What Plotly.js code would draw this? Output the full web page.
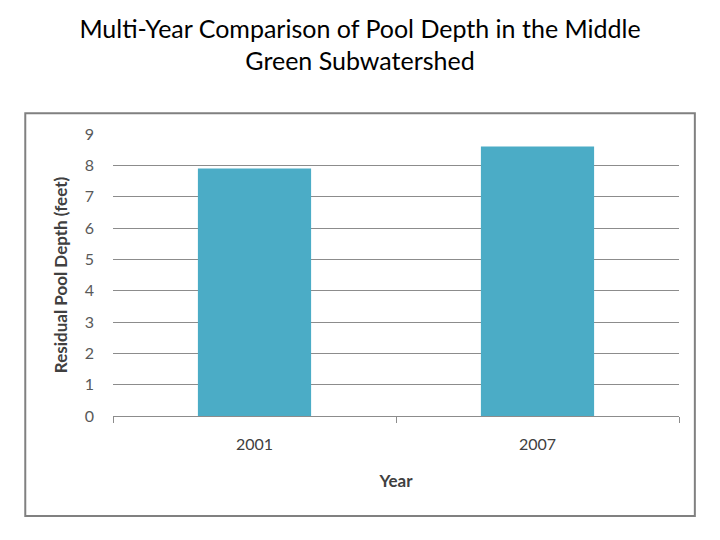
<!DOCTYPE html>
<html>
<head>
<meta charset="utf-8">
<script src="https://cdn.plot.ly/plotly-3.0.1.min.js"></script>
<style>
  html, body { margin: 0; padding: 0; background: #fff; }
  #chart { width: 720px; height: 540px; }
</style>
</head>
<body>
<div id="chart"></div>
<script>
// Values
const years = ['2001', '2007'];
const poolDepth = [7.9, 8.6];

const barColor = '#4BACC6';
const gridColor = '#8c8c8c';
const fontFamily = 'Lato, "Open Sans", "DejaVu Sans", sans-serif';

const trace = {
    type: 'bar',
    x: years,
    y: poolDepth,
    marker: { color: barColor, line: { width: 0 } },
    hoverinfo: 'x+y',
};

const layout = {
    width: 720,
    height: 540,
    margin: { l: 113, r: 41, t: 134, b: 124 },
    paper_bgcolor: '#fff',
    plot_bgcolor: '#fff',
    font: { family: fontFamily, color: '#595959', size: 16 },
    showlegend: false,
    bargap: 0.6,
    title: {
        text: 'Multi-Year Comparison of Pool Depth in the Middle<br>Green Subwatershed',
        font: { family: fontFamily, size: 25, color: '#000' },
        x: 0.5,
        xanchor: 'center',
        y: 0.93,
        yanchor: 'top',
    },
    xaxis: {
        type: 'category',
        range: [-0.5, 1.5],
        showgrid: false,
        showline: true,
        linecolor: gridColor,
        linewidth: 1,
        ticks: 'outside',
        tickson: 'boundaries',
        ticklen: 6,
        tickcolor: gridColor,
        ticklabelstandoff: 14,
        tickfont: { size: 16, color: '#404040' },
        title: {
            text: '<b>Year</b>',
            font: { size: 17, color: '#404040' },
            standoff: 22,
        },
        fixedrange: true,
    },
    yaxis: {
        range: [0, 9],
        dtick: 1,
        showgrid: true,
        gridcolor: gridColor,
        gridwidth: 1,
        zeroline: false,
        showline: false,
        ticks: '',
        ticklabelstandoff: 18,
        tickfont: { size: 16, color: '#595959' },
        title: {
            text: '<b>Residual Pool Depth (feet)</b>',
            font: { size: 17, color: '#404040' },
            standoff: 12,
        },
        fixedrange: true,
    },
    shapes: [
        {
            // outer chart-area frame
            type: 'rect',
            xref: 'paper', yref: 'paper',
            x0: -0.155, x1: 1.028,
            y0: -0.355, y1: 1.074,
            line: { color: '#808080', width: 2 },
            fillcolor: 'rgba(0,0,0,0)',
            layer: 'below',
        },
    ],
};

Plotly.newPlot('chart', [trace], layout, { displayModeBar: false, staticPlot: true });
</script>
</body>
</html>
